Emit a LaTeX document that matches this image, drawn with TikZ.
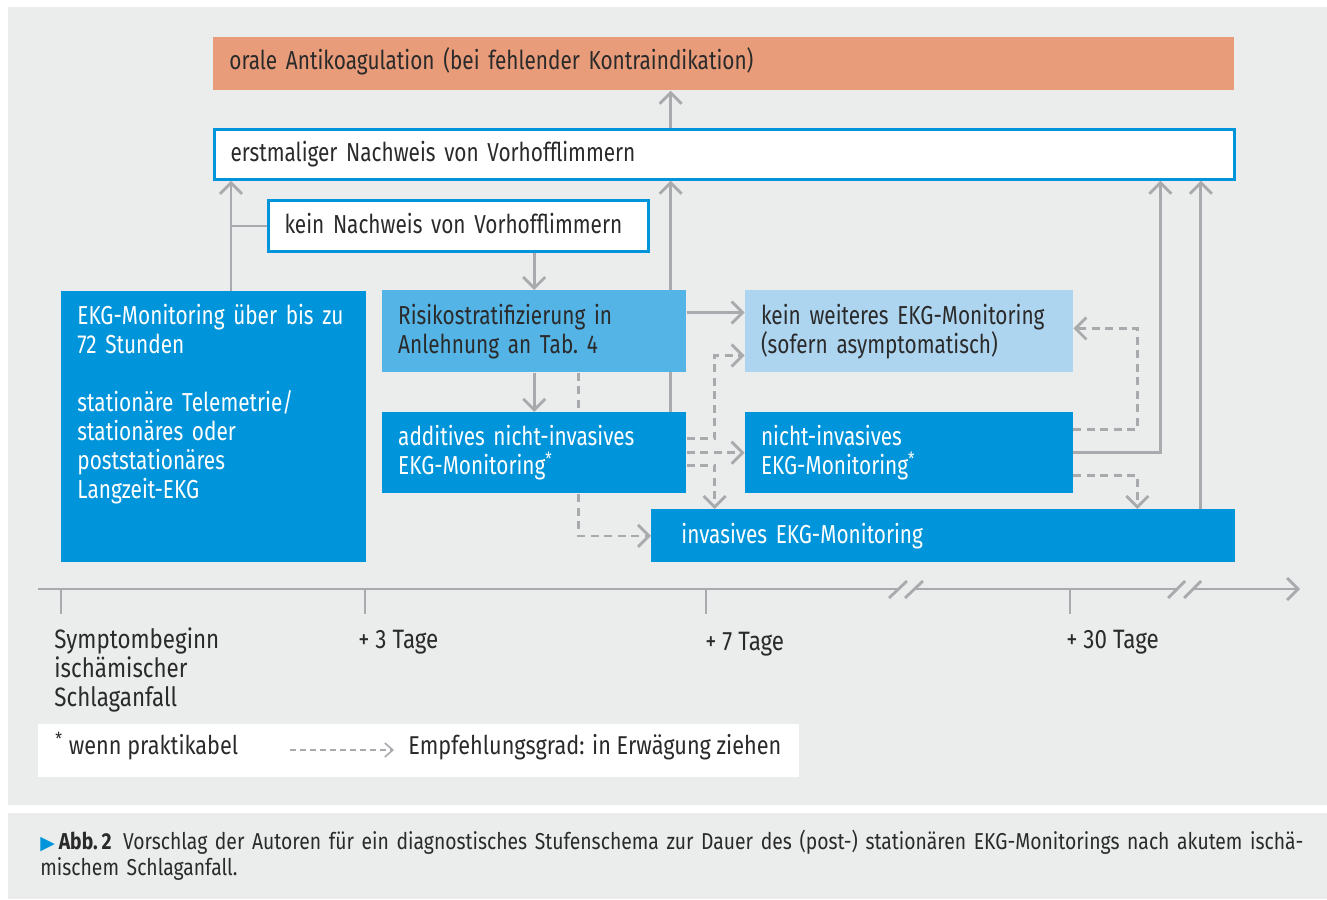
\documentclass[tikz,border=0pt]{standalone}
\usepackage{fontspec}
\setmainfont{Fira Sans}[FakeStretch=0.84]
\newfontfamily\boxfam{Fira Sans}[FakeStretch=0.80]
\newfontfamily\symfont{DejaVu Sans}
\usepackage{tikz}
\usetikzlibrary{arrows.meta,positioning}

\definecolor{panel}{HTML}{EBECEC}
\definecolor{oac}{HTML}{E89C7A}
\definecolor{ekg}{HTML}{0095DA}
\definecolor{strat}{HTML}{55B4E6}
\definecolor{pale}{HTML}{AED5F0}
\definecolor{wire}{HTML}{A8AAAD}
\definecolor{ink}{HTML}{2A2A2A}

\newcommand{\boxfont}{\boxfam\fontsize{13pt}{14.5pt}\selectfont}
\newcommand{\labfont}{\fontsize{13.3pt}{14.5pt}\selectfont}
\newcommand{\keyfont}{\fontsize{12.9pt}{14.5pt}\selectfont}
\newcommand{\capfont}{\fontsize{11.5pt}{13pt}\selectfont}

\pgfdeclarelayer{back}
\pgfdeclarelayer{wires}
\pgfsetlayers{back,wires,main}

\tikzset{
  box/.style={anchor=north west, inner xsep=8pt, inner ysep=0pt, align=left, font=\boxfont, text=ink},
  flat/.style={box, fill=ekg, text=white},
  outlined/.style={box, draw=ekg, line width=1.5pt, fill=white},
  lab/.style={inner sep=0pt, align=left, font=\labfont, text=ink},
  wireline/.style={draw=wire, line width=1.4pt},
  link/.style={wireline, -{Straight Barb[length=5.5pt,width=11pt]}},
  maybe/.style={link, dash pattern=on 4pt off 2.75pt},
  keylink/.style={draw=wire, line width=0.8pt, dash pattern=on 3pt off 2pt, -{Straight Barb[length=4pt,width=7pt]}}
}

\begin{document}
\begin{tikzpicture}[x=0.5pt,y=-0.5pt]
  \begin{pgfonlayer}{back}
    \fill[white] (0,0) rectangle (1327,899);
    \fill[panel] (8,7) rectangle (1327,805);
    \fill[panel] (8,813) rectangle (1327,899);
  \end{pgfonlayer}
  \useasboundingbox (0,0) rectangle (1327,899);

  \node[box, fill=oac, text width=494.5pt, text height=16pt, text depth=10.5pt] (oak) at (213,37)
    {orale Antikoagulation (bei fehlender Kontraindikation)};
  \node[outlined, text width=494pt, text height=16pt, text depth=9pt, below=18.5pt of oak.south west, anchor=north west] (af)
    {erstmaliger Nachweis von Vorhofflimmern};
  \node[outlined, text width=174pt, text height=16.5pt, text depth=9pt] (noaf) at (267,199)
    {kein Nachweis von Vorhofflimmern};
  \node[flat, text width=136.5pt, text height=16.5pt, text depth=119pt] (mon) at (61,291)
    {EKG-Monitoring über bis zu\\72 Stunden\\[14.5pt]stationäre Telemetrie/\\stationäres oder\\poststationäres\\Langzeit-EKG};
  \node[box, fill=strat, text width=136pt, text height=17pt, text depth=24pt, right=7.5pt of mon.north east, anchor=north west, yshift=0.5pt] (risk)
    {Risikostratifizierung in\\Anlehnung an Tab.~4};
  \node[flat, text width=136pt, text height=16.5pt, text depth=24pt, below=19.5pt of risk.south west, anchor=north west] (add)
    {additives nicht-invasives\\EKG-Monitoring\textsuperscript{*}};
  \node[box, fill=pale, text width=148pt, text height=17pt, text depth=24pt, right=29pt of risk.north east, anchor=north west] (stop)
    {kein weiteres EKG-Monitoring\\(sofern asymptomatisch)};
  \node[flat, text width=148pt, text height=16.5pt, text depth=24pt, right=29pt of add.north east, anchor=north west] (ni)
    {nicht-invasives\\EKG-Monitoring\textsuperscript{*}};
  \node[flat, inner xsep=15pt, text width=262pt, text height=17pt, text depth=9.5pt] (inv) at (651,509)
    {invasives EKG-Monitoring};

  \coordinate (j1) at ([xshift=85pt]mon.north west);
  \coordinate (j2) at ([xshift=-8pt]add.north east);
  \coordinate (j3) at ([xshift=22pt]risk.south);
  \coordinate (j4) at ([xshift=14pt]add.east);
  \coordinate (j5) at ([xshift=32pt]ni.east);
  \coordinate (j6) at ([xshift=43.5pt]ni.east);
  \coordinate (j7) at ([xshift=-17.5pt]inv.north east);
  \coordinate (a1) at ([yshift=7pt]add.east);
  \coordinate (a3) at ([yshift=-6.25pt]add.east);
  \coordinate (n1) at ([yshift=11.75pt]ni.east);
  \coordinate (n3) at ([yshift=-11.25pt]ni.east);
  \coordinate (s1) at ([yshift=-12pt]stop.west);
  \coordinate (s2) at ([yshift=1.5pt]stop.east);

  \begin{pgfonlayer}{wires}
    \draw[link] (j1) -- (j1 |- af.south);
    \draw[wireline] (j1 |- noaf.west) -- (noaf.west);
    \draw[link] (risk.north |- noaf.south) -- (risk.north);
    \draw[link] (j2 |- af.north) -- (j2 |- oak.south);
    \draw[link] (j2) -- (j2 |- af.south);
    \draw[link] ([yshift=9.5pt]risk.east) -- ([yshift=9.5pt]stop.west);
    \draw[link] (risk.south) -- (add.north);
    \draw[maybe] (j3) |- (inv.west);
    \draw[maybe] (a1) -- (a1 -| j4) |- (s1);
    \draw[maybe] (add.east) -- (ni.west);
    \draw[maybe] (a3) -| (j4 |- inv.north);
    \draw[maybe] (n1) -- (n1 -| j5) |- (s2);
    \draw[link] (ni.east) -| (j6 |- af.south);
    \draw[maybe] (n3) -| (j5 |- inv.north);
    \draw[link] (j7) -- (j7 |- af.south);
  \end{pgfonlayer}

  \coordinate (t0) at (61,589);
  \coordinate (t1) at (365,589);
  \coordinate (t2) at (706,589);
  \coordinate (t3) at (1070,589);
  \draw[wireline] (38,589) -- (898,589) (914,589) -- (1177,589);
  \draw[link] (1193,589) -- (1300,589);
  \draw[wireline] (889,598) -- (907,581) (905,598) -- (923,581)
    (1168,598) -- (1185,581) (1184,598) -- (1201,581);
  \foreach \t in {t0,t1,t2,t3}
    \draw[wireline] (\t) -- ++(0,25);

  \node[lab, text width=150pt, anchor=base west] (l0) at (54,648) {Symptombeginn\\ischämischer\\Schlaganfall};
  \node[lab, anchor=base west] (l1) at (358,648) {+ 3 Tage};
  \node[lab, anchor=base west] (l2) at (705,650) {+ 7 Tage};
  \node[lab, anchor=base west] (l3) at (1066,648) {+ 30 Tage};

  \node[fill=white, inner sep=0pt, minimum width=380.5pt, minimum height=26.5pt, anchor=north west] (key) at (37.5,724) {};
  \node[lab, font=\keyfont, anchor=base west] (k1) at (55,754) {\textsuperscript{*} wenn praktikabel};
  \coordinate (k2) at (290,750);
  \coordinate (k3) at (394,750);
  \draw[keylink] (k2) -- (k3);
  \node[lab, font=\keyfont, anchor=base west] (k4) at (408,754) {Empfehlungsgrad: in Erwägung ziehen};

  \node[inner sep=0pt, align=left, text width=645pt, font=\capfont, text=ink, anchor=base west] (cap) at (40,849)
    {{\symfont\color{ekg}\fontsize{9.5pt}{9.5pt}\selectfont ▶}\,\textbf{Abb.\,2}\enspace Vorschlag der Autoren für ein diagnostisches Stufenschema zur Dauer des (post-) stationären EKG-Monitorings nach akutem ischä-\\mischem Schlaganfall.};
\end{tikzpicture}
\end{document}
